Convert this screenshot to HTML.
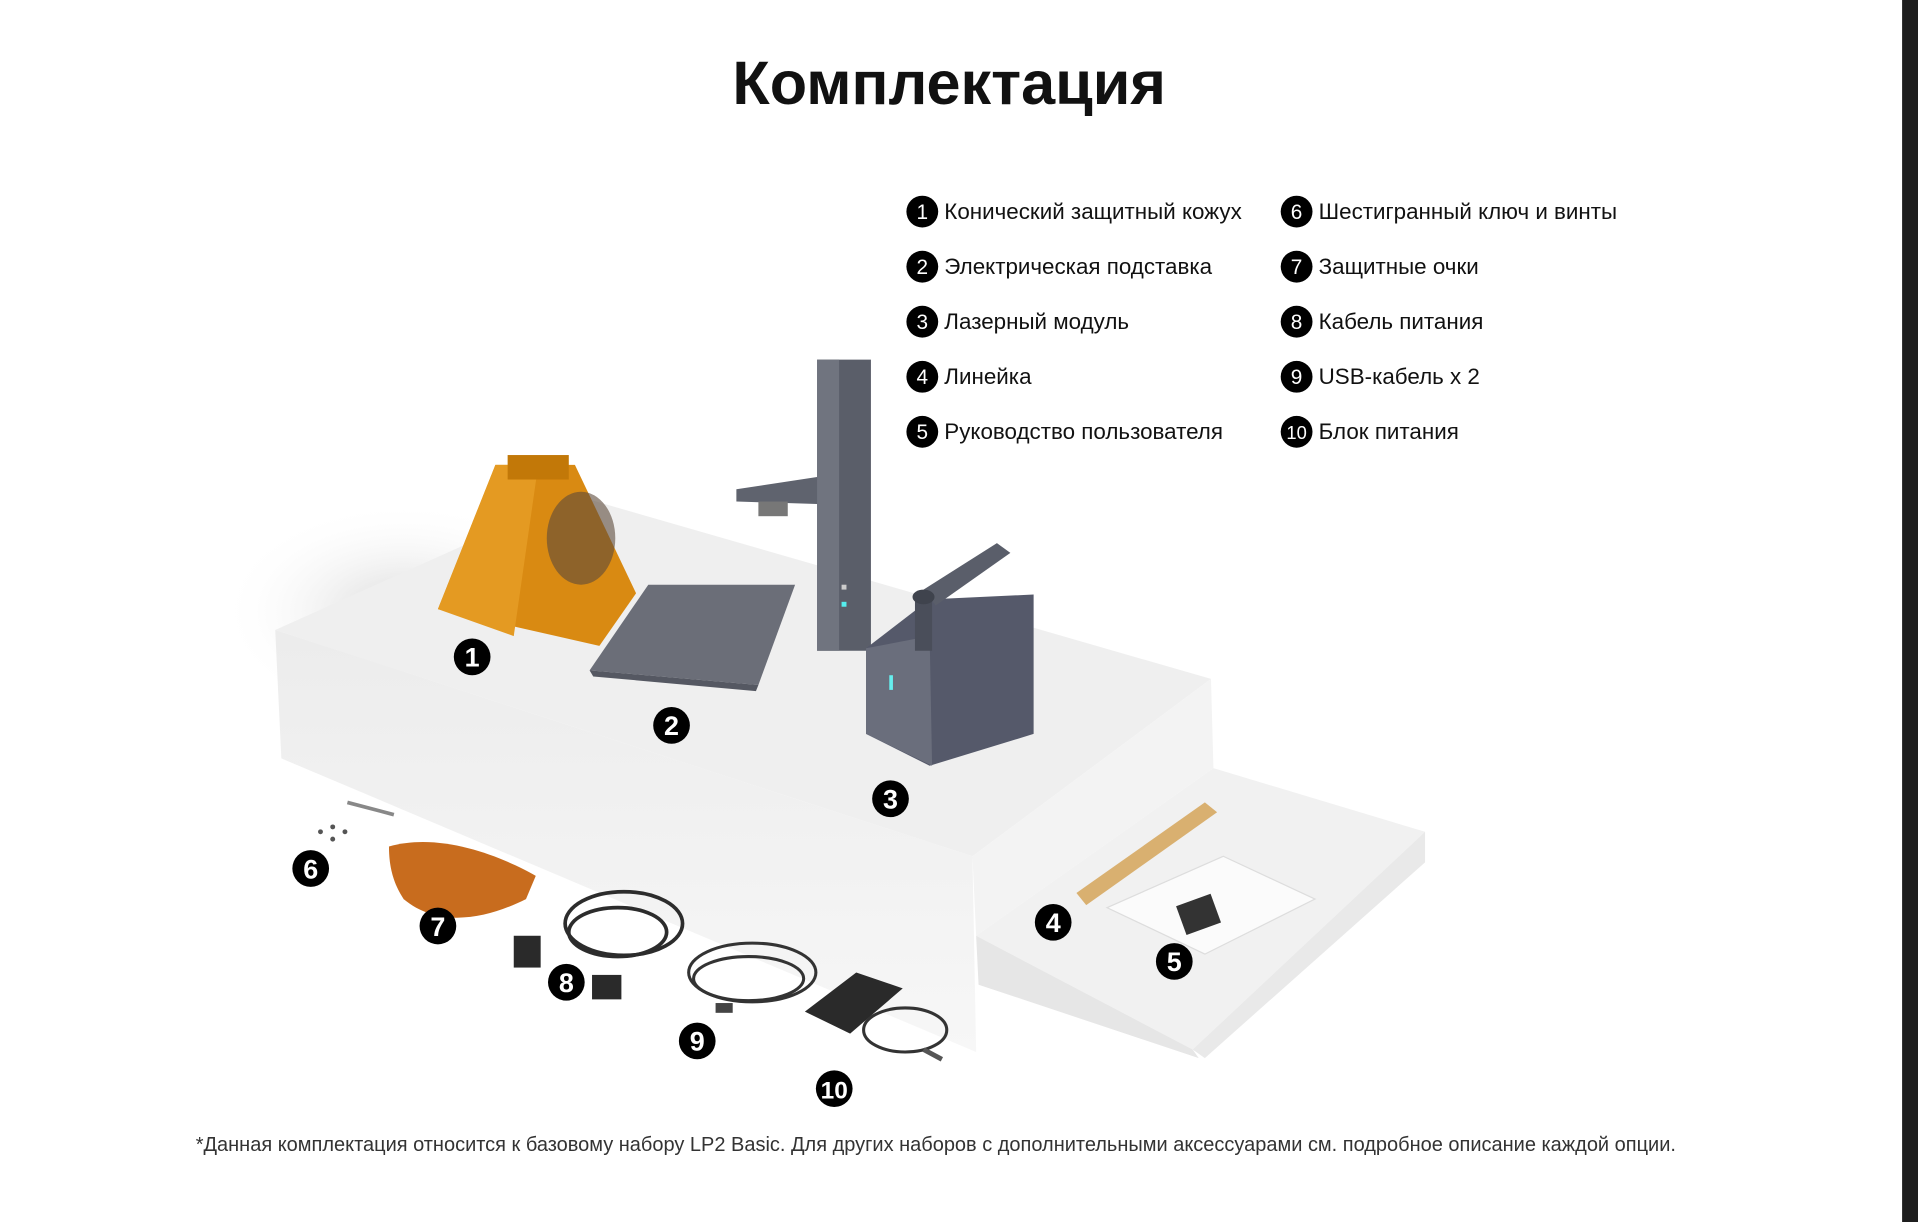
<!DOCTYPE html>
<html><head><meta charset="utf-8"><style>
html,body{margin:0;padding:0;background:#fff;width:1918px;height:1222px;overflow:hidden}
svg{display:block}
text{font-family:"Liberation Sans",sans-serif}
</style></head><body>
<svg width="1918" height="1222" viewBox="0 0 1568 999" xmlns="http://www.w3.org/2000/svg">
<defs>
<radialGradient id="sh" cx="0.5" cy="0.5" r="0.5"><stop offset="0" stop-color="#d8d8d8"/><stop offset="1" stop-color="#fff" stop-opacity="0"/></radialGradient>
<linearGradient id="fr" x1="0" y1="0" x2="0" y2="1"><stop offset="0" stop-color="#ececec"/><stop offset="1" stop-color="#f7f7f7"/></linearGradient>
</defs>
<rect x="1555" y="0" width="13" height="999" fill="#1e1e1e"/>
<text x="776" y="85" font-size="50" font-weight="bold" text-anchor="middle" fill="#111">Комплектация</text>

<ellipse cx="330" cy="500" rx="150" ry="90" fill="url(#sh)"/>
<!-- big box -->
<polygon points="225,515 470,405 990,555 795,700" fill="#efefef"/>
<polygon points="225,515 795,700 798,860 230,620" fill="url(#fr)"/>
<polygon points="795,700 990,555 992,628 798,765" fill="#f3f3f3"/>
<!-- small box -->
<polygon points="798,765 992,628 1165,680 975,858" fill="#f1f1f1"/>
<polygon points="798,765 975,858 980,865 800,805" fill="#e6e6e6"/>
<polygon points="975,858 1165,680 1165,705 985,865" fill="#e9e9e9"/>

<!-- shield -->
<polygon points="405,380 470,380 520,485 490,528 358,498" fill="#d98a12"/>
<polygon points="405,380 440,380 420,520 358,498" fill="#e49a22"/>
<rect x="415" y="372" width="50" height="20" fill="#c27808"/>
<ellipse cx="475" cy="440" rx="28" ry="38" fill="#5b4a3a" opacity="0.6"/>
<!-- stand -->
<polygon points="482,548 530,478 650,478 620,560" fill="#6b6e78"/>
<polygon points="482,548 620,560 618,565 485,553" fill="#555862"/>
<rect x="668" y="294" width="44" height="238" fill="#5a5e69"/>
<rect x="668" y="294" width="18" height="238" fill="#70747f"/>
<polygon points="602,400 668,390 668,412 602,410" fill="#5f636e"/>
<rect x="620" y="410" width="24" height="12" fill="#777"/>
<rect x="688" y="478" width="4" height="4" fill="#ccc"/><rect x="688" y="492" width="4" height="4" fill="#5ee"/>
<!-- laser module -->
<polygon points="708,530 760,490 845,486 845,600 760,626 708,600" fill="#55596a"/>
<polygon points="708,530 760,520 762,626 708,600" fill="#6a6e7c"/>
<rect x="748" y="488" width="14" height="44" fill="#4a4e5a"/>
<polygon points="755,482 815,444 826,452 765,495" fill="#5a5e6a"/>
<ellipse cx="755" cy="488" rx="9" ry="6" fill="#3f434d"/>
<rect x="727" y="552" width="3" height="12" fill="#6ee"/>
<!-- tools -->
<line x1="284" y1="656" x2="322" y2="666" stroke="#888" stroke-width="3"/>
<circle cx="262" cy="680" r="2" fill="#555"/><circle cx="272" cy="676" r="2" fill="#555"/><circle cx="282" cy="680" r="2" fill="#555"/><circle cx="272" cy="686" r="2" fill="#555"/>
<path d="M318,692 C360,680 410,700 438,716 L430,735 C400,750 360,760 330,735 C320,720 318,705 318,692Z" fill="#c86c1e"/>
<ellipse cx="510" cy="755" rx="48" ry="26" fill="none" stroke="#2c2c2c" stroke-width="3"/>
<ellipse cx="505" cy="762" rx="40" ry="20" fill="none" stroke="#2c2c2c" stroke-width="3"/>
<rect x="420" y="765" width="22" height="26" fill="#2a2a2a"/><rect x="484" y="797" width="24" height="20" fill="#2a2a2a"/>
<ellipse cx="615" cy="795" rx="52" ry="24" fill="none" stroke="#333" stroke-width="2.5"/>
<ellipse cx="612" cy="800" rx="45" ry="18" fill="none" stroke="#333" stroke-width="2.5"/>
<rect x="585" y="820" width="14" height="8" fill="#444"/>
<polygon points="658,827 700,795 738,808 695,845" fill="#2a2a2a"/>
<ellipse cx="740" cy="842" rx="34" ry="18" fill="none" stroke="#333" stroke-width="2.5"/>
<line x1="755" y1="858" x2="770" y2="866" stroke="#555" stroke-width="4"/>
<!-- ruler + manual -->
<polygon points="880,730 985,656 995,664 888,740" fill="#d9b070"/>
<polygon points="905,742 1000,700 1075,735 985,780" fill="#fbfbfb" stroke="#ddd"/>
<rect x="965" y="735" width="30" height="25" fill="#333" transform="rotate(-20 980 748)"/>

<!-- badges -->
<g font-size="22" font-weight="bold" fill="#fff" text-anchor="middle">
<circle cx="386" cy="537" r="15" fill="#000"/><text x="386" y="545">1</text>
<circle cx="549" cy="593" r="15" fill="#000"/><text x="549" y="601">2</text>
<circle cx="728" cy="653" r="15" fill="#000"/><text x="728" y="661">3</text>
<circle cx="861" cy="754" r="15" fill="#000"/><text x="861" y="762">4</text>
<circle cx="960" cy="786" r="15" fill="#000"/><text x="960" y="794">5</text>
<circle cx="254" cy="710" r="15" fill="#000"/><text x="254" y="718">6</text>
<circle cx="358" cy="757" r="15" fill="#000"/><text x="358" y="765">7</text>
<circle cx="463" cy="803" r="15" fill="#000"/><text x="463" y="811">8</text>
<circle cx="570" cy="851" r="15" fill="#000"/><text x="570" y="859">9</text>
<circle cx="682" cy="890" r="15" fill="#000"/><text x="682" y="898" font-size="20">10</text>
</g>

<!-- legend -->
<g font-size="18.3" fill="#111">
<g fill="#000"><circle cx="754" cy="173" r="13"/><circle cx="754" cy="218" r="13"/><circle cx="754" cy="263" r="13"/><circle cx="754" cy="308" r="13"/><circle cx="754" cy="353" r="13"/>
<circle cx="1060" cy="173" r="13"/><circle cx="1060" cy="218" r="13"/><circle cx="1060" cy="263" r="13"/><circle cx="1060" cy="308" r="13"/><circle cx="1060" cy="353" r="13"/></g>
<g fill="#fff" text-anchor="middle" font-size="17">
<text x="754" y="179">1</text><text x="754" y="224">2</text><text x="754" y="269">3</text><text x="754" y="314">4</text><text x="754" y="359">5</text>
<text x="1060" y="179">6</text><text x="1060" y="224">7</text><text x="1060" y="269">8</text><text x="1060" y="314">9</text><text x="1060" y="359" font-size="15">10</text></g>
<text x="772" y="179">Конический защитный кожух</text>
<text x="772" y="224">Электрическая подставка</text>
<text x="772" y="269">Лазерный модуль</text>
<text x="772" y="314">Линейка</text>
<text x="772" y="359">Руководство пользователя</text>
<text x="1078" y="179">Шестигранный ключ и винты</text>
<text x="1078" y="224">Защитные очки</text>
<text x="1078" y="269">Кабель питания</text>
<text x="1078" y="314">USB-кабель x 2</text>
<text x="1078" y="359">Блок питания</text>
</g>
<text x="160" y="941" font-size="16.35" fill="#333">*Данная комплектация относится к базовому набору LP2 Basic. Для других наборов с дополнительными аксессуарами см. подробное описание каждой опции.</text>
</svg>
</body></html>
